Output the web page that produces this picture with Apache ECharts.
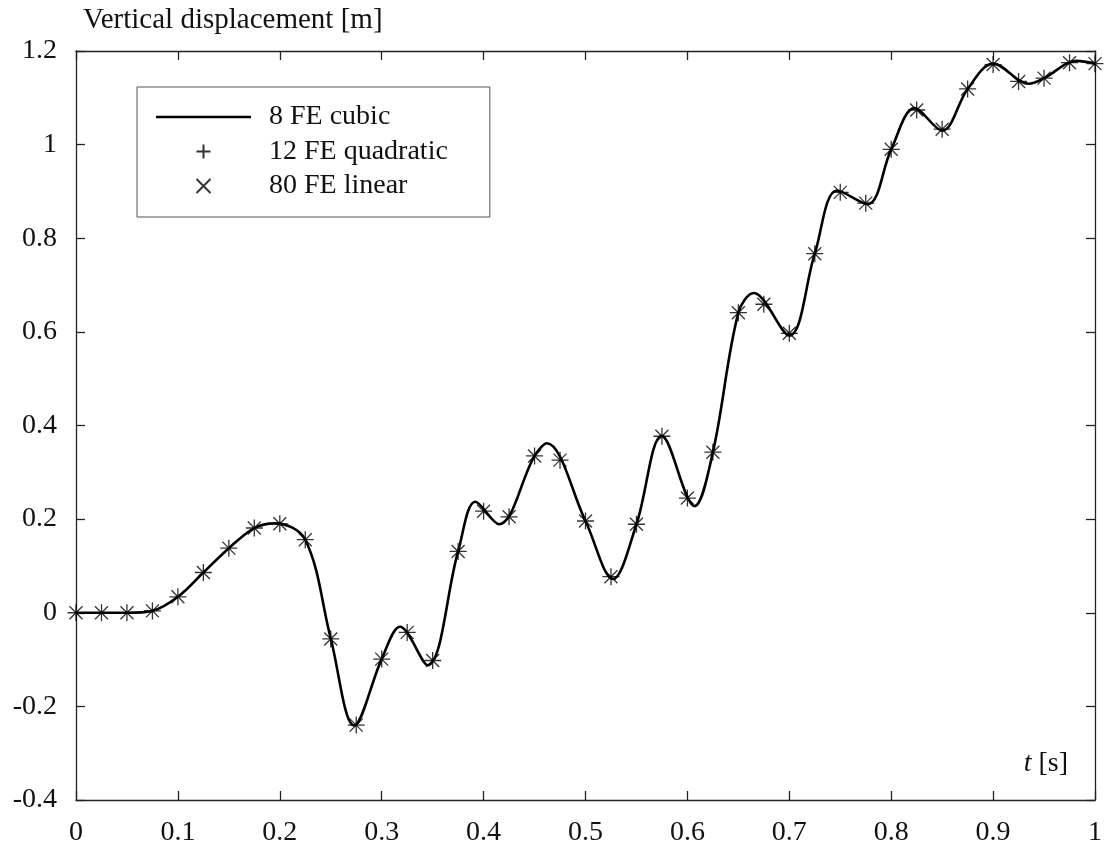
<!DOCTYPE html>
<html>
<head>
<meta charset="utf-8">
<script src="https://cdn.jsdelivr.net/npm/echarts@6/dist/echarts.min.js"></script>
<style>html,body{margin:0;padding:0;background:#fff;}#c{width:1105px;height:849px;}</style>
</head>
<body>
<div id="c"></div>
<script>
// ---- data ----
const cubicTimes  = [0, 0.025, 0.05, 0.075, 0.1, 0.125, 0.15, 0.175, 0.195, 0.225, 0.25, 0.273, 0.3, 0.318, 0.345, 0.375, 0.392, 0.415, 0.45, 0.462, 0.5, 0.527, 0.55, 0.575, 0.607, 0.625, 0.65, 0.665, 0.7, 0.725, 0.747, 0.777, 0.8, 0.823, 0.85, 0.875, 0.9, 0.935, 0.95, 0.982, 1.0];
const cubicValues = [0, 0, 0, 0.004, 0.034, 0.086, 0.138, 0.181, 0.191, 0.156, -0.055, -0.241, -0.099, -0.03, -0.112, 0.131, 0.237, 0.189, 0.335, 0.362, 0.196, 0.072, 0.189, 0.378, 0.228, 0.343, 0.641, 0.683, 0.592, 0.767, 0.902, 0.873, 0.990, 1.078, 1.03, 1.119, 1.173, 1.13, 1.142, 1.179, 1.173];

const markTimes  = [0, 0.025, 0.05, 0.075, 0.1, 0.125, 0.15, 0.175, 0.2, 0.225, 0.25, 0.275, 0.3, 0.325, 0.35, 0.375, 0.4, 0.425, 0.45, 0.475, 0.5, 0.525, 0.55, 0.575, 0.6, 0.625, 0.65, 0.675, 0.7, 0.725, 0.75, 0.775, 0.8, 0.825, 0.85, 0.875, 0.9, 0.925, 0.95, 0.975, 1.0];
const quadValues = [0, 0, 0, 0.004, 0.034, 0.086, 0.138, 0.181, 0.19, 0.156, -0.056, -0.24, -0.099, -0.042, -0.102, 0.131, 0.217, 0.205, 0.335, 0.326, 0.196, 0.077, 0.189, 0.377, 0.245, 0.343, 0.641, 0.659, 0.597, 0.767, 0.898, 0.875, 0.990, 1.074, 1.033, 1.119, 1.171, 1.135, 1.142, 1.175, 1.173];
const linValues  = [0, 0, 0, 0.004, 0.034, 0.086, 0.138, 0.181, 0.19, 0.156, -0.056, -0.24, -0.099, -0.042, -0.102, 0.131, 0.217, 0.205, 0.335, 0.326, 0.196, 0.077, 0.189, 0.377, 0.245, 0.343, 0.641, 0.659, 0.597, 0.767, 0.898, 0.875, 0.990, 1.074, 1.033, 1.119, 1.171, 1.135, 1.142, 1.175, 1.173];

const seriesNames = ['8 FE cubic', '12 FE quadratic', '80 FE linear'];
const yTickLabels = {'1.2':'1.2','1':'1','0.8':'0.8','0.6':'0.6','0.4':'0.4','0.2':'0.2','0':'0','-0.2':'-0.2','-0.4':'-0.4'};

const pair = (xs, ys) => xs.map((x, i) => [x, ys[i]]);
const FONT = '"Liberation Serif", "DejaVu Serif", serif';
const AX = '#222';
const PLUS = 'path://M5 0L5 10M0 5L10 5';
const CROSS = 'path://M0 0L10 10M10 0L0 10';

const chart = echarts.init(document.getElementById('c'), null, {renderer: 'canvas'});
function axisBase() {
  return {
    axisLine: {show: true, onZero: false, lineStyle: {color: AX, width: 1.3}},
    axisTick: {show: true, inside: true, length: 9, lineStyle: {color: AX, width: 1.3}},
    splitLine: {show: false}
  };
}
chart.setOption({
  animation: false,
  backgroundColor: '#fff',
  textStyle: {fontFamily: FONT},
  grid: {left: 76, right: 10, top: 51, bottom: 49, containLabel: false},
  xAxis: [
    Object.assign(axisBase(), {
      type: 'value', min: 0, max: 1, interval: 0.1, position: 'bottom',
      axisLabel: {color: '#111', fontSize: 28, fontFamily: FONT, margin: 19,
        formatter: v => String(Math.round(v * 10) / 10)},
      name: '{i|t} [s]', nameLocation: 'end', nameGap: -27,
      nameTextStyle: {align: 'right', verticalAlign: 'bottom', padding: [0, 0, 22, 0],
        color: '#111', fontSize: 28, fontFamily: FONT,
        rich: {i: {fontStyle: 'italic', fontSize: 28, fontFamily: FONT, color: '#111'}}}
    }),
    Object.assign(axisBase(), {
      type: 'value', min: 0, max: 1, interval: 0.1, position: 'top',
      axisLabel: {show: false}
    })
  ],
  yAxis: [
    Object.assign(axisBase(), {
      type: 'value', min: -0.4, max: 1.2, interval: 0.2, position: 'left',
      axisLabel: {color: '#111', fontSize: 28, fontFamily: FONT, margin: 19,
        formatter: v => yTickLabels[String(Math.round(v * 10) / 10)] || ''},
      name: 'Vertical displacement [m]', nameLocation: 'end', nameGap: 16,
      nameTextStyle: {align: 'left', color: '#111', fontSize: 29, fontFamily: FONT, padding: [0, 0, 0, 7]}
    }),
    Object.assign(axisBase(), {
      type: 'value', min: -0.4, max: 1.2, interval: 0.2, position: 'right',
      axisLabel: {show: false}
    })
  ],
  legend: {
    orient: 'vertical', left: 137, top: 87,
    data: [
      {name: seriesNames[0], icon: 'path://M0 0L100 0L100 2.7L0 2.7Z'},
      {name: seriesNames[1], icon: PLUS},
      {name: seriesNames[2], icon: CROSS}
    ],
    backgroundColor: '#fff', borderColor: '#555', borderWidth: 1,
    padding: [15, 42, 16, 19],
    itemWidth: 95, itemHeight: 14, itemGap: 4.5,
    selectedMode: false,
    textStyle: {fontSize: 28, lineHeight: 30, color: '#111', fontFamily: FONT, padding: [0, 0, 0, 13]}
  },
  series: [
    {
      name: seriesNames[0], type: 'line', data: pair(cubicTimes, cubicValues),
      showSymbol: false, symbol: 'none', smooth: 0.35,
      lineStyle: {color: '#000', width: 2.6}, itemStyle: {color: '#000'},
      z: 3
    },
    {
      name: seriesNames[1], type: 'scatter', data: pair(markTimes, quadValues),
      symbol: PLUS, symbolSize: 17, symbolKeepAspect: true,
      itemStyle: {color: 'rgba(0,0,0,0)', borderColor: '#000', borderWidth: 1.3},
      z: 4
    },
    {
      name: seriesNames[2], type: 'scatter', data: pair(markTimes, linValues),
      symbol: CROSS, symbolSize: 13, symbolKeepAspect: true,
      itemStyle: {color: 'rgba(0,0,0,0)', borderColor: '#000', borderWidth: 1.3},
      z: 4
    }
  ]
});
</script>
</body>
</html>
